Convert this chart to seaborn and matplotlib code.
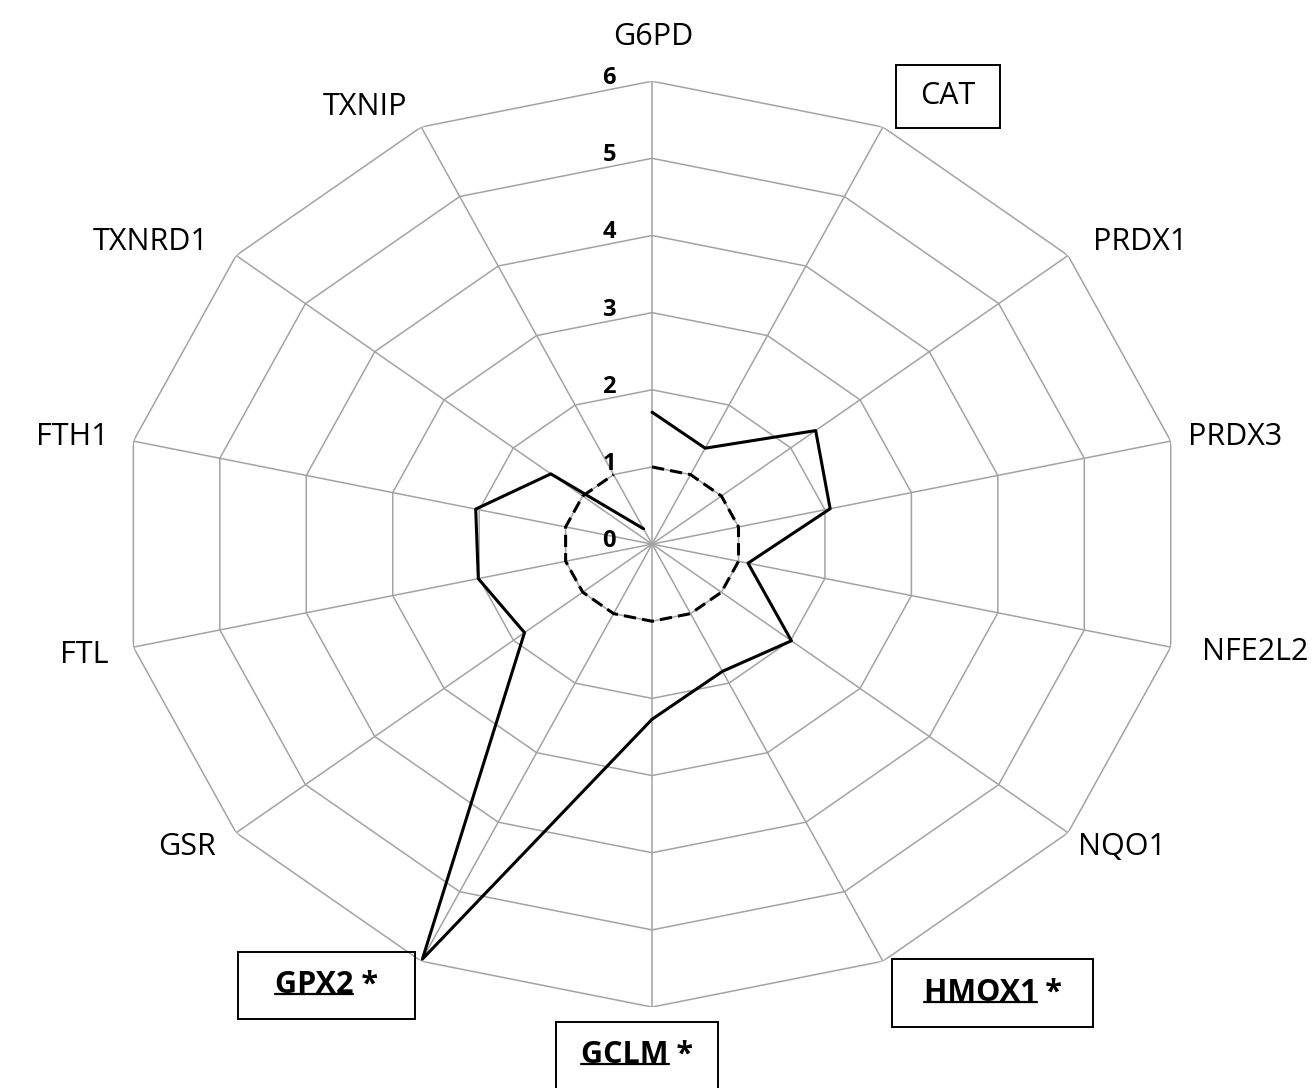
import numpy as np
import matplotlib
matplotlib.use('Agg')
import matplotlib.pyplot as plt
import seaborn as sns
from matplotlib.lines import Line2D
from matplotlib.patches import Rectangle

genes = ['G6PD', 'CAT', 'PRDX1', 'PRDX3', 'NFE2L2', 'NQO1', 'HMOX1',
         'GCLM', 'GPX2', 'GSR', 'FTL', 'FTH1', 'TXNRD1', 'TXNIP']
fold_change = [1.71, 1.38, 2.36, 2.06, 1.11, 2.01, 1.83,
               2.27, 5.97, 1.84, 2.01, 2.04, 1.46, 0.22]
control = [1, 1, 1, 1, 1, 1, 1, 1, 1, 1, 1, 1, 1, 1]
r_ticks = [0, 1, 2, 3, 4, 5, 6]
boxed = ['CAT', 'HMOX1', 'GCLM', 'GPX2']
significant = ['HMOX1', 'GCLM', 'GPX2']

# label offsets (pixels) from the outer ring vertex
label_offsets = {
    'G6PD': (1, 44), 'CAT': (65, 31), 'PRDX1': (72, 13), 'PRDX3': (64, 4),
    'NFE2L2': (84, -5), 'NQO1': (54, -14), 'HMOX1': (110, -32),
    'GCLM': (-15, -48), 'GPX2': (-95, -24), 'GSR': (-49, -14),
    'FTL': (-49, -8), 'FTH1': (-61, 4), 'TXNRD1': (-85, 13), 'TXNIP': (-56, 20),
}
# box sizes (pixels) around the framed labels
box_size = {'CAT': (104, 63), 'GPX2': (177, 67), 'HMOX1': (201, 68), 'GCLM': (162, 67)}

sns.set_style('white')
plt.rcParams['font.family'] = ['Open Sans', 'DejaVu Sans']

n = len(genes)
theta = np.linspace(0, 2 * np.pi, n, endpoint=False)
theta_c = np.append(theta, theta[0])
r_max = r_ticks[-1]

W, H = 1312, 1088
fig = plt.figure(figsize=(W / 100, H / 100), dpi=100)
ax = fig.add_axes([0.0915, 0.0744, 0.811, 0.851], projection='polar')
ax.set_aspect('auto')
ax.patch.set_visible(False)
ax.set_theta_zero_location('N')
ax.set_theta_direction(-1)
ax.set_ylim(0, r_max)
ax.grid(False)
ax.spines['polar'].set_visible(False)
ax.set_xticks([])
ax.set_yticks([])

grid_color = '#a3a3a3'
for r in r_ticks[1:]:
    ax.plot(theta_c, [r] * (n + 1), color=grid_color, lw=1.1, zorder=1)
for t in theta:
    ax.plot([t, t], [0, r_max], color=grid_color, lw=1.1, zorder=1)

sns.lineplot(x=theta_c, y=control + control[:1], ax=ax, sort=False,
             color='black', linewidth=2.2, linestyle=(0, (4, 2)), zorder=3)
sns.lineplot(x=theta_c, y=fold_change + fold_change[:1], ax=ax, sort=False,
             color='black', linewidth=2.2, zorder=4)
ax.set_xlabel('')
ax.set_ylabel('')

for r in r_ticks:
    ax.annotate(str(r), xy=(0, r), xytext=(-43, 3), textcoords='offset pixels',
                ha='center', va='center', fontsize=17, fontweight='bold',
                color='black', zorder=2)

label_size = 22
underline = []
framed = []
for t, g in zip(theta, genes):
    txt = g + ' *' if g in significant else g
    kw = dict(ha='center', va='center', fontsize=label_size, color='black')
    if g in significant:
        kw['fontweight'] = 'bold'
    a = ax.annotate(txt, xy=(t, r_max), xytext=label_offsets[g],
                    textcoords='offset pixels', annotation_clip=False, **kw)
    if g in significant:
        underline.append((a, g))
    if g in boxed:
        framed.append((a, g))

fig.canvas.draw()
renderer = fig.canvas.get_renderer()
for a, g in underline:
    bb = a.get_window_extent(renderer)
    tmp = fig.text(0, 0, g, fontsize=label_size, fontweight='bold')
    w = tmp.get_window_extent(renderer).width
    tmp.remove()
    y = bb.y0 + 0.2 * label_size * 100 / 72
    fig.add_artist(Line2D([bb.x0 / W, (bb.x0 + w) / W], [y / H, y / H],
                          transform=fig.transFigure, color='black', lw=1.6))
for a, g in framed:
    bb = a.get_window_extent(renderer)
    bw, bh = box_size[g]
    cx, cy = (bb.x0 + bb.x1) / 2, (bb.y0 + bb.y1) / 2
    fig.add_artist(Rectangle(((cx - bw / 2) / W, (cy - bh / 2) / H), bw / W, bh / H,
                             transform=fig.transFigure, fill=False,
                             edgecolor='black', lw=1.4))

fig.savefig('out.png', dpi=100)
